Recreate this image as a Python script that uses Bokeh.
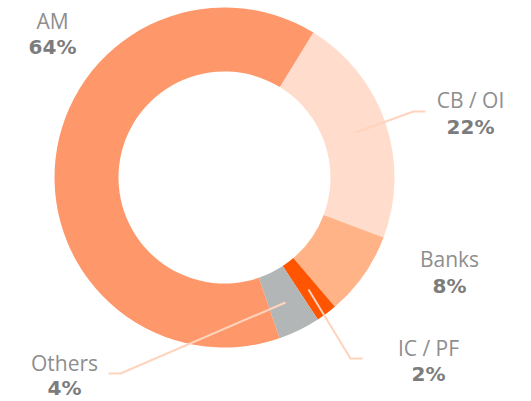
import math
from bokeh.plotting import figure
from bokeh.models import Range1d, ColumnDataSource
from bokeh.core.properties import value
from bokeh.embed import file_html
from bokeh.resources import INLINE

# ---- data ----
categories = ["CB / OI", "Banks", "IC / PF", "Others", "AM"]
shares = [22, 8, 2, 4, 64]
pct_labels = ["22%", "8%", "2%", "4%", "64%"]
colors = ["#FFDCCB", "#FFB387", "#FF5500", "#B3B6B6", "#FE976A"]

# ---- layout (image pixel coords, y downward) ----
W, H = 531, 401
cx, cy = 224, 177
r_out, r_in = 170, 106
start_clock = 31.5  # degrees clockwise from 12 o'clock
text_shift = 7      # compensate renderer baseline offset

label_pos = {  # centre x, baseline of name (image y), baseline of percent
    "AM": (52, 27, 53),
    "CB / OI": (470, 106, 133),
    "Banks": (449, 265, 292),
    "IC / PF": (428, 354, 380),
    "Others": (64, 369, 394),
}
leaders = {
    "CB / OI": [(355, 132), (413, 111), (425, 111)],
    "IC / PF": [(308, 289), (350, 358), (362, 358)],
    "Others": [(285, 302), (120, 373), (108, 373)],
}

def Y(yi):
    return H - yi

p = figure(width=W, height=H, output_backend="svg",
           toolbar_location=None, x_range=Range1d(0, W),
           y_range=Range1d(0, H), min_border=0)
p.axis.visible = False
p.grid.visible = False
p.outline_line_color = None
p.background_fill_color = "white"

total = float(sum(shares))
starts, ends = [], []
acc = start_clock
for s in shares:
    a0 = acc
    a1 = acc + s / total * 360.0
    starts.append(math.radians(90 - a1))
    ends.append(math.radians(90 - a0))
    acc = a1

src = ColumnDataSource(dict(start=starts, end=ends, color=colors, cat=categories))
p.annular_wedge(x=cx, y=Y(cy), inner_radius=r_in, outer_radius=r_out,
                start_angle="start", end_angle="end", fill_color="color",
                line_color=None, source=src)

for cat, pts in leaders.items():
    p.line([q[0] for q in pts], [Y(q[1]) for q in pts], line_color="#FFD3BD",
           line_width=2)

names_x, names_y, pc_x, pc_y, pcs, names = [], [], [], [], [], []
for cat, pc in zip(categories, pct_labels):
    x, yb1, yb2 = label_pos[cat]
    names.append(cat); names_x.append(x); names_y.append(Y(yb1 - text_shift))
    pcs.append(pc); pc_x.append(x); pc_y.append(Y(yb2 - text_shift))

p.text(x=names_x, y=names_y, text=names, text_align="center",
       text_baseline="alphabetic", text_font=value("Open Sans"),
       text_font_size="21px", text_color="#8E8E8E")
p.text(x=pc_x, y=pc_y, text=pcs, text_align="center",
       text_baseline="alphabetic", text_font=value("DejaVu Sans"),
       text_font_style="bold", text_font_size="20px", text_color="#7C7C7C")

open("out.html", "w").write(file_html(p, INLINE))
